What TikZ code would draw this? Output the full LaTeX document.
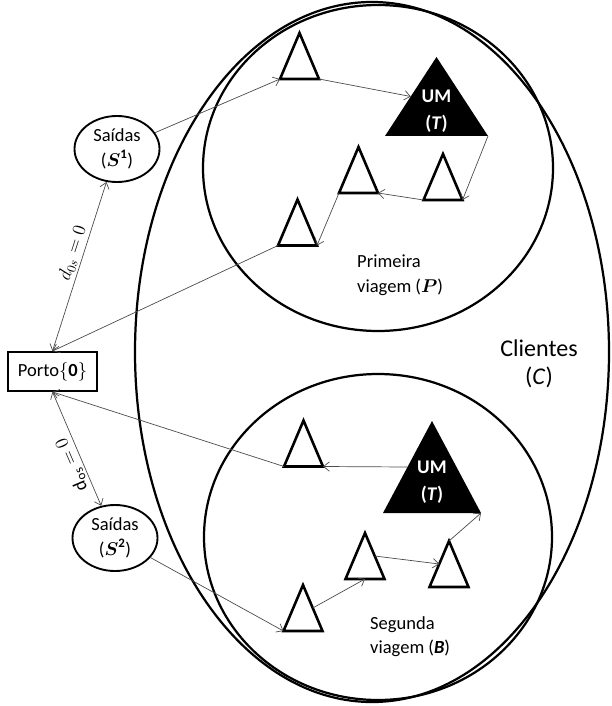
\RequirePackage{fix-cm}
\documentclass[tikz,border=0pt]{standalone}
\usepackage{amsmath}
\usepackage{fontspec}
\setmainfont{Carlito}
\usetikzlibrary{arrows.meta,shapes.geometric}

\tikzset{
  >={Straight Barb[length=5pt,width=8pt]},
  route/.style={->,draw=black!70,line width=0.6pt},
  region/.style={draw=black,line width=1.9pt},
  saida/.style={ellipse,draw,line width=1.6pt,minimum width=2.55cm,
    minimum height=1.98cm,inner sep=0pt,align=center},
  umtext/.style={text=white,font=\fontsize{16.5}{23}\selectfont\bfseries,align=center},
  pics/tri/.style={code={
    \draw[line width=2.2pt] (-19.5,23) coordinate (-l) -- (0,-23) coordinate (-a)
      -- (19.5,23) coordinate (-r) -- cycle;
    \coordinate (-ls) at (-9.75,0);
    \coordinate (-rs) at (9.75,0);
    \coordinate (-b) at (0,23);
  }},
  pics/um/.style n args={2}{code={
    \fill (-#1,#2) coordinate (-l) -- (0,-#2) coordinate (-a)
      -- (#1,#2) coordinate (-r) -- cycle;
    \coordinate (-ls) at (-#1/2,0);
    \node[umtext] (-t) at (0,15) {UM\\(\textit{T})};
  }},
}

\begin{document}
\begin{tikzpicture}[x=0.03cm,y=-0.03cm,font=\fontsize{15.8}{21}\selectfont]

  \clip (0,0) rectangle (611,706);

  \draw[region] (372,352) ellipse [x radius=237,y radius=350];
  \draw[region] (378,168) ellipse [x radius=175,y radius=163];
  \draw[region] (378,537) ellipse [x radius=174,y radius=163];

  \node[draw,line width=1.6pt,minimum width=2.67cm,minimum height=1.17cm,inner sep=0pt]
    (porto) at (52.5,371.5) {Porto$\{\mathbf{0}\}$};
  \node[saida] (s1) at (117,149) {Saídas\\($\boldsymbol{S}^{\mathbf{1}}$)};
  \node[saida] (s2) at (115,538) {Saídas\\($\boldsymbol{S}^{\mathbf{2}}$)};

  % primeira viagem
  \pic (t1) at (299.5,56) {tri};
  \pic (p1) at (297.5,222.5) {tri};
  \pic (p2) at (358.5,170) {tri};
  \pic (p3) at (443,177) {tri};
  \pic (um1) at (436.5,96.5) {um={51.5}{39.5}};
  \node[anchor=west,align=left,inner sep=0pt] (prim) at (357,275)
    {Primeira\\viagem ($\boldsymbol{P}$)};

  % segunda viagem
  \pic (b1) at (303.5,443.5) {tri};
  \pic (b2) at (365,556) {tri};
  \pic (b3) at (449,564) {tri};
  \pic (b4) at (303,608) {tri};
  \pic (um2) at (432,467) {um={49}{46}};
  \node[anchor=west,align=left,inner sep=0pt] (seg) at (370,636.5)
    {Segunda\\viagem (\textbf{\textit{B}})};

  \node[align=center,inner sep=0pt,font=\fontsize{20.5}{24}\selectfont] (cli) at (539,364)
    {Clientes\\(\textit{C})};

  \draw[route] (s1) -- (t1-l);
  \draw[route] (t1-r) -- (um1-ls);
  \draw[route] (um1-r) -- (p3-r);
  \draw[route] (p3-l) -- (p2-r);
  \draw[route] (p2-l) -- (p1-r);
  \draw[route] (p1-l) -- (porto.north);
  \draw[route,<->] (porto.north) -- node[pos=0.56,sloped,above,inner sep=2pt] {$d_{0s} = 0$} (s1);

  \draw[route] (b1-l) -- (porto.south);
  \draw[route] (um2-ls) -- (b1-r);
  \draw[route,<->] (s2) -- node[pos=0.4,sloped,allow upside down,above,inner sep=2pt]
    {$\mathrm{d_{os}} = 0$} (porto.south);
  \draw[route] (s2) -- (b4-l);
  \draw[route] (b4-rs) -- (b2-b);
  \draw[route] (b2-rs) -- (b3-ls);
  \draw[route] (b3-a) -- (um2-r);

\end{tikzpicture}
\end{document}
